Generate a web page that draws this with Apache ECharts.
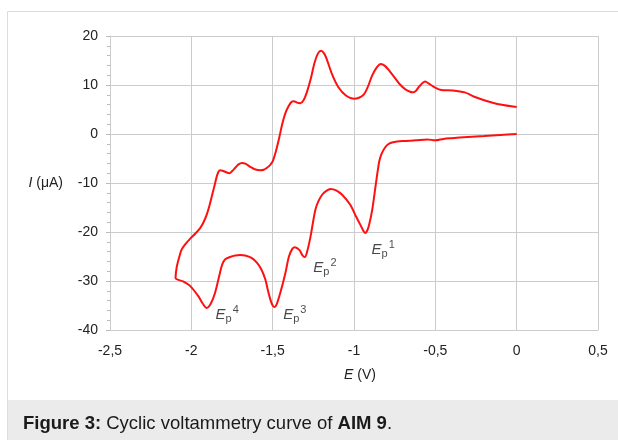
<!DOCTYPE html>
<html>
<head>
<meta charset="utf-8">
<script src="https://cdn.jsdelivr.net/npm/echarts@6/dist/echarts.min.js"></script>
<style>
html,body{margin:0;padding:0;background:#fff;}
#main{width:618px;height:440px;}
</style>
</head>
<body>
<div id="main"></div>
<script>
// cathodic scan, 0 V -> -2.1 V
var cathodicE = [0, -0.1, -0.2, -0.3, -0.4, -0.45, -0.5, -0.55, -0.62, -0.7, -0.76, -0.79, -0.81, -0.83, -0.845, -0.866, -0.888, -0.907, -0.92, -0.932, -0.945, -0.96, -0.988, -1.024, -1.073, -1.11, -1.144, -1.17, -1.196, -1.22, -1.237, -1.252, -1.267, -1.288, -1.302, -1.318, -1.335, -1.364, -1.38, -1.4, -1.422, -1.453, -1.475, -1.488, -1.5, -1.514, -1.53, -1.545, -1.57, -1.596, -1.63, -1.669, -1.7, -1.73, -1.762, -1.793, -1.81, -1.823, -1.854, -1.88, -1.906, -1.93, -1.957, -2.008, -2.05, -2.097];
var cathodicI = [0, -0.2, -0.4, -0.6, -0.85, -1.0, -1.3, -1.1, -1.3, -1.45, -1.7, -2.1, -2.8, -4.0, -5.6, -10.3, -15.5, -18.5, -19.8, -20.2, -19.6, -18.6, -16.8, -14.4, -12.4, -11.5, -11.2, -11.6, -12.4, -13.8, -15.4, -18.0, -20.9, -24.0, -25.1, -24.7, -23.7, -23.1, -23.5, -25.0, -28.4, -32.4, -34.7, -35.3, -35.0, -33.8, -31.8, -29.7, -27.6, -26.3, -25.3, -24.8, -24.7, -24.8, -25.1, -25.6, -26.6, -28.2, -32.4, -34.6, -35.5, -34.6, -33.1, -31.0, -30.1, -29.4];
// anodic scan, -2.1 V -> 0 V
var anodicE = [-2.09, -2.075, -2.06, -2.035, -2.008, -1.975, -1.946, -1.925, -1.906, -1.89, -1.874, -1.858, -1.844, -1.833, -1.823, -1.808, -1.793, -1.765, -1.75, -1.73, -1.71, -1.689, -1.665, -1.638, -1.61, -1.576, -1.555, -1.535, -1.515, -1.5, -1.48, -1.46, -1.44, -1.42, -1.4, -1.383, -1.37, -1.35, -1.33, -1.31, -1.29, -1.267, -1.243, -1.222, -1.202, -1.185, -1.17, -1.134, -1.097, -1.048, -1.0, -0.97, -0.939, -0.915, -0.89, -0.86, -0.835, -0.81, -0.78, -0.75, -0.72, -0.684, -0.64, -0.62, -0.599, -0.562, -0.54, -0.514, -0.465, -0.392, -0.319, -0.26, -0.2, -0.1, 0];
var anodicI = [-27.2, -25.2, -23.6, -22.4, -21.4, -20.3, -19.2, -18.0, -16.5, -14.8, -12.7, -10.6, -8.7, -7.7, -7.4, -7.5, -7.7, -8.0, -7.6, -6.9, -6.2, -5.9, -6.1, -6.7, -7.2, -7.4, -7.3, -6.9, -6.3, -5.6, -3.5, -0.8, 2.2, 4.4, 5.8, 6.6, 6.7, 6.4, 6.3, 6.9, 8.5, 11.1, 14.5, 16.4, 17.0, 16.5, 15.5, 12.1, 9.6, 7.8, 7.2, 7.4, 8.1, 9.6, 11.8, 13.6, 14.3, 13.9, 12.8, 11.5, 10.2, 9.1, 8.5, 8.8, 9.7, 10.7, 10.3, 9.7, 9.0, 8.9, 8.5, 7.6, 6.9, 6.0, 5.5];

// peak annotations E_p^n
var peakNums = ['1', '2', '3', '4'];
var peakLabelE = [-0.895, -1.253, -1.438, -1.854];
var peakLabelI = [-23.6, -27.3, -36.9, -36.9];

var FONT = 'Liberation Sans, Arial, Helvetica, sans-serif';

var curve = [];
for (var i = 0; i < cathodicE.length; i++) curve.push([cathodicE[i], cathodicI[i]]);
for (var j = 0; j < anodicE.length; j++) curve.push([anodicE[j], anodicI[j]]);

var peakData = [];
for (var k = 0; k < peakNums.length; k++) {
  peakData.push({ value: [peakLabelE[k], peakLabelI[k]], name: peakNums[k] });
}

var chart = echarts.init(document.getElementById('main'));
var option = {
  animation: false,
  backgroundColor: '#fff',
  textStyle: { fontFamily: FONT },
  graphic: [
    {
      type: 'rect', z: -10, silent: true,
      shape: { x: 7.5, y: 11.5, width: 700, height: 500 },
      style: { fill: '#fff', stroke: '#dcdcdc', lineWidth: 1 }
    },
    {
      type: 'rect', z: -9, silent: true,
      shape: { x: 8, y: 400, width: 612, height: 42 },
      style: { fill: '#ebebeb' }
    },
    {
      type: 'text', z: 10, silent: true,
      left: 23, top: 414,
      style: {
        text: '{b|Figure 3:} Cyclic voltammetry curve of {b|AIM 9}.',
        fontFamily: FONT, fontSize: 18.5, fill: '#1a1a1a',
        rich: { b: { fontWeight: 'bold', fontFamily: FONT, fontSize: 18.5, fill: '#1a1a1a' } }
      }
    }
  ],
  grid: { left: 110, right: 20, top: 36, bottom: 110 },
  xAxis: {
    type: 'value',
    min: -2.5, max: 0.5, interval: 0.5,
    name: '{i|E} (V)',
    nameLocation: 'middle',
    nameGap: 38,
    nameTextStyle: {
      color: '#222', fontSize: 14, fontFamily: FONT, padding: [0, 0, 0, 12],
      rich: { i: { fontStyle: 'italic', fontSize: 14, fontFamily: FONT, color: '#222' } }
    },
    axisLine: { show: true, onZero: false, lineStyle: { color: '#cccccc', width: 1 } },
    axisTick: { show: false },
    axisLabel: {
      margin: 14, color: '#222', fontSize: 14, fontFamily: FONT,
      formatter: function (v) { return String(v).replace('.', ','); }
    },
    splitLine: { show: true, lineStyle: { color: '#cccccc', width: 1 } }
  },
  yAxis: {
    type: 'value',
    min: -40, max: 20, interval: 10,
    name: '{i|I} (\u03bcA)',
    nameLocation: 'middle',
    nameRotate: 0,
    nameGap: 47,
    nameTextStyle: {
      color: '#222', fontSize: 14, fontFamily: FONT,
      rich: { i: { fontStyle: 'italic', fontSize: 14, fontFamily: FONT, color: '#222' } }
    },
    axisLine: { show: true, onZero: false, lineStyle: { color: '#cccccc', width: 1 } },
    axisTick: { show: true, length: 4, lineStyle: { color: '#bbbbbb' } },
    minorTick: { show: true, splitNumber: 5, length: 3, lineStyle: { color: '#bbbbbb' } },
    axisLabel: { margin: 12, color: '#222', fontSize: 14, fontFamily: FONT },
    splitLine: { show: true, lineStyle: { color: '#cccccc', width: 1 } }
  },
  series: [
    {
      type: 'line',
      data: curve,
      smooth: 0.3,
      showSymbol: false,
      silent: true,
      lineStyle: { color: '#ff1010', width: 2 }
    },
    {
      type: 'scatter',
      data: peakData,
      symbolSize: 1,
      silent: true,
      itemStyle: { color: 'transparent' },
      label: {
        show: true,
        position: 'right',
        distance: 0,
        formatter: function (p) { return '{e|E}{p|p}{s|' + p.name + '}'; },
        rich: {
          e: { fontStyle: 'italic', fontSize: 15, lineHeight: 20, fontFamily: FONT, color: '#1a1a1a' },
          p: { fontSize: 11, lineHeight: 10, verticalAlign: 'bottom', fontFamily: FONT, color: '#1a1a1a' },
          s: { fontSize: 11, lineHeight: 10, verticalAlign: 'top', padding: [0, 0, 0, 1], fontFamily: FONT, color: '#1a1a1a' }
        }
      }
    }
  ]
};
chart.setOption(option);
</script>
</body>
</html>
